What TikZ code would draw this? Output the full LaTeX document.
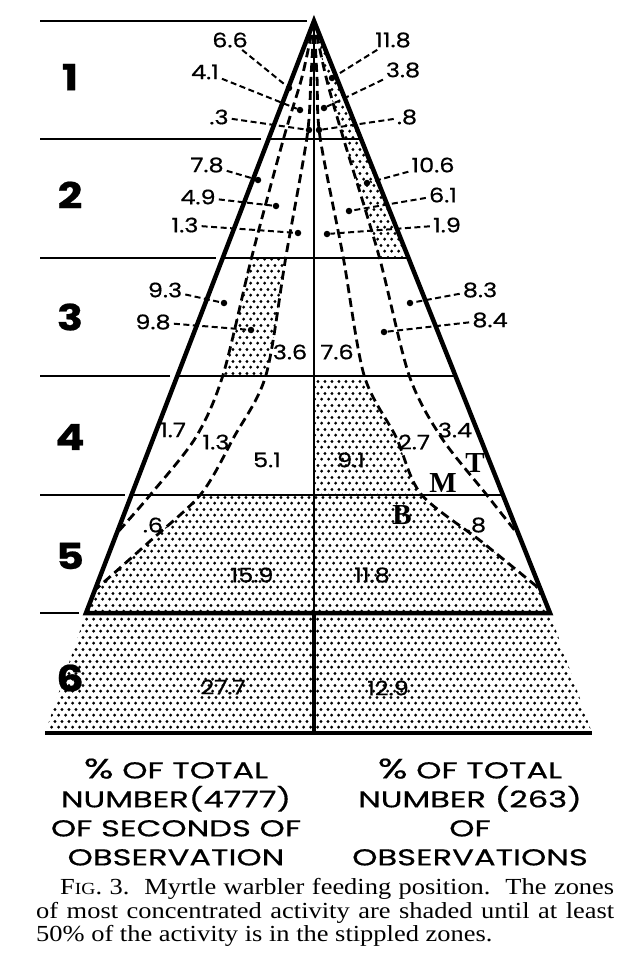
\documentclass[tikz,border=0pt]{standalone}
\usepackage{fontspec}
\usepackage{tikz}
\usetikzlibrary{calc}
\usetikzlibrary{patterns.meta}
\setmainfont{Liberation Serif}
\newfontfamily\lettering[FakeStretch=1.2, FakeBold=0.6]{Poppins}
\newfontfamily\legendfont[FakeStretch=1.4, FakeBold=0.6]{Poppins}
\newfontfamily\captionfont[FakeStretch=1.15]{Liberation Serif}
\tikzdeclarepattern{
    name=stippling,
    bounding box={(0pt,0pt) and (7.3pt,11.6pt)},
    tile size={(7.3pt,11.6pt)},
    code={
        \fill (1.8pt,2.9pt) circle (1.7pt);
        \fill (5.45pt,8.7pt) circle (1.7pt);
    }
}
\newcommand{\curveLO}{plot[smooth] coordinates {(314,21) (302,77) (284,137) (252,256) (223,375) (196,437) (151,494) (117,533)}}
\newcommand{\curveLI}{plot[smooth] coordinates {(314,21) (311,77) (307,137) (286,256) (266,375) (234,437) (201,494) (149,542) (95,590)}}
\newcommand{\curveRI}{plot[smooth] coordinates {(314,21) (317,77) (320,137) (343,256) (364,375) (396,437) (421,494) (482,542) (541,590)}}
\newcommand{\curveRO}{plot[smooth] coordinates {(314,21) (326,77) (343,137) (379,256) (409,375) (441,437) (486,494) (520,537)}}

\begin{document}
\begin{tikzpicture}[x=1pt, y=-1pt,
            edge/.style = {line width=4.5pt, line join=miter},
            rule/.style = {line width=1.9pt},
            zone/.style = {line width=2.8pt, dash pattern=on 9pt off 5pt},
            leader/.style = {line width=2pt, dash pattern=on 6pt off 3.5pt, shorten <=2pt},
            dot/.style = {circle, fill=black, inner sep=0pt, minimum size=6.5pt},
            val/.style = {font=\lettering\fontsize{20}{20}\selectfont, inner sep=1pt},
            row/.style = {font=\lettering\bfseries\fontsize{36}{36}\selectfont},
            band/.style = {font=\bfseries\fontsize{29}{29}\selectfont},
            legend/.style = {font=\legendfont\fontsize{23}{29}\selectfont, align=center, anchor=north},
            capline/.style = {anchor=base west, inner sep=0pt, font=\captionfont\fontsize{23}{23}\selectfont},
            stipple/.style = {pattern=stippling}]
        \useasboundingbox (0,0) rectangle (636,962);
        \coordinate (apex) at (314,21);
        \coordinate (bl) at (86,613);
        \coordinate (br) at (550,613);
        \coordinate (bbl) at (45,733);
        \coordinate (bbr) at (592,733);
        \coordinate (L1) at ($(apex)!0.2!(bl)$);
        \coordinate (L2) at ($(apex)!0.4!(bl)$);
        \coordinate (L3) at ($(apex)!0.6!(bl)$);
        \coordinate (L4) at ($(apex)!0.8!(bl)$);
        \coordinate (R1) at ($(apex)!0.2!(br)$);
        \coordinate (R2) at ($(apex)!0.4!(br)$);
        \coordinate (R3) at ($(apex)!0.6!(br)$);
        \coordinate (R4) at ($(apex)!0.8!(br)$);

        % stippled zones
        \begin{scope}
            \clip (apex) -- (bl) -- (br) -- cycle;
            \clip (0,0) rectangle (636,0 |- L2);
            \fill[stipple] \curveRO -- (520,800) -- (636,800) -- (636,0) -- (314,0) -- cycle;
        \end{scope}
        \begin{scope}
            \clip (0,0 |- L2) rectangle (636,0 |- L3);
            \clip \curveLO -- (117,800) -- (636,800) -- (636,0) -- (314,0) -- cycle;
            \fill[stipple] \curveLI -- (95,800) -- (0,800) -- (0,0) -- (314,0) -- cycle;
        \end{scope}
        \begin{scope}
            \clip (0,0 |- L3) rectangle (636,0 |- L4);
            \fill[stipple] \curveRI -- (541,800) -- (314,800) -- cycle;
        \end{scope}
        \begin{scope}
            \clip (0,0 |- L4) rectangle (636,613);
            \clip \curveLI -- (bl) -- (86,800) -- (636,800) -- (636,0) -- (314,0) -- cycle;
            \fill[stipple] \curveRI -- (br) -- (550,800) -- (0,800) -- (0,0) -- (314,0) -- cycle;
        \end{scope}
        \fill[stipple] (bl) -- (br) -- (bbr) -- (bbl) -- cycle;

        \draw[rule] ([xshift=-7pt]apex) -- (40,0 |- apex);
        \draw[rule] ([xshift=-7pt]L1) -- (40,0 |- L1);
        \draw[rule] ([xshift=-7pt]L2) -- (40,0 |- L2);
        \draw[rule] ([xshift=-7pt]L3) -- (40,0 |- L3);
        \draw[rule] ([xshift=-7pt]L4) -- (40,0 |- L4);
        \draw[rule] ([xshift=-7pt]bl) -- (40,0 |- bl);
        \draw[rule] (L1) -- (R1);
        \draw[rule] (L2) -- (R2);
        \draw[rule] (L3) -- (R3);
        \draw[rule] (L4) -- (R4);
        \draw[rule] (apex) -- (314,613);
        \draw[zone] \curveLO;
        \draw[zone] \curveLI;
        \draw[zone] \curveRI;
        \draw[zone] \curveRO;
        \draw[edge] (apex) -- (br) -- (bl) -- cycle;
        \draw[edge] (bbl) -- (bbr);
        \draw[line width=3.5pt] (314,613) -- (314,733);

        \node[row] (n1) at (70,77) {1};
        \node[row] (n2) at (70,195) {2};
        \node[row] (n3) at (70,317) {3};
        \node[row] (n4) at (70,437) {4};
        \node[row] (n5) at (70,556) {5};
        \node[row] (n6) at (70,678) {6};

        \node[val] (v66) at (230,40) {6.6};   \node[dot] (p66) at (289,88) {};
        \node[val] (v41) at (205,72) {4.1};   \node[dot] (p41) at (300,110) {};
        \node[val] (v03) at (219,117) {.3};   \node[dot] (p03) at (309,130) {};
        \node[val] (v118) at (393,40) {11.8}; \node[dot] (p118) at (332,78) {};
        \node[val] (v38) at (403,70) {3.8};   \node[dot] (p38) at (324,108) {};
        \node[val] (v08) at (407,117) {.8};   \node[dot] (p08) at (319,130) {};
        \node[val] (v78) at (207,165) {7.8};  \node[dot] (p78) at (258,180) {};
        \node[val] (v49) at (198,197) {4.9};  \node[dot] (p49) at (276,206) {};
        \node[val] (v13) at (185,225) {1.3};  \node[dot] (p13) at (298,233) {};
        \node[val] (v106) at (433,165) {10.6}; \node[dot] (p106) at (367,183) {};
        \node[val] (v61) at (443,195) {6.1};  \node[dot] (p61) at (349,211) {};
        \node[val] (v19) at (447,225) {1.9};  \node[dot] (p19) at (327,234) {};
        \node[val] (v93) at (165,290) {9.3};  \node[dot] (p93) at (224,303) {};
        \node[val] (v98) at (153,322) {9.8};  \node[dot] (p98) at (251,330) {};
        \node[val] (v83) at (480,290) {8.3};  \node[dot] (p83) at (410,303) {};
        \node[val] (v84) at (490,320) {8.4};  \node[dot] (p84) at (384,332) {};
        \draw[leader] (v66) -- (p66);
        \draw[leader] (v41) -- (p41);
        \draw[leader] (v03) -- (p03);
        \draw[leader] (v118) -- (p118);
        \draw[leader] (v38) -- (p38);
        \draw[leader] (v08) -- (p08);
        \draw[leader] (v78) -- (p78);
        \draw[leader] (v49) -- (p49);
        \draw[leader] (v13) -- (p13);
        \draw[leader] (v106) -- (p106);
        \draw[leader] (v61) -- (p61);
        \draw[leader] (v19) -- (p19);
        \draw[leader] (v93) -- (p93);
        \draw[leader] (v98) -- (p98);
        \draw[leader] (v83) -- (p83);
        \draw[leader] (v84) -- (p84);

        \node[val] (v36) at (290,352) {3.6};
        \node[val] (v76) at (337,352) {7.6};
        \node[val] (v17) at (173,430) {1.7};
        \node[val] (v13b) at (216,442) {1.3};
        \node[val] (v51) at (267,460) {5.1};
        \node[val] (v91) at (351,460) {9.1};
        \node[val] (v27) at (414,442) {2.7};
        \node[val] (v34) at (455,430) {3.4};
        \node[band] (tip) at (475,463) {T};
        \node[band] (mid) at (443,483) {M};
        \node[band] (base) at (402,515) {B};
        \node[val] (v06) at (153,525) {.6};
        \node[val] (v08b) at (476,525) {.8};
        \node[val] (v159) at (252,575) {15.9};
        \node[val] (v118b) at (372,575) {11.8};
        \node[val] (v277) at (223,687) {27.7};
        \node[val] (v129) at (388,688) {12.9};

        \node[legend] (legL) at (176,755) {{\fontsize{28}{29}\selectfont\%} OF TOTAL\\NUMBER(4777)\\OF SECONDS OF\\OBSERVATION};
        \node[legend] (legR) at (470,755) {{\fontsize{28}{29}\selectfont\%} OF TOTAL\\NUMBER (263)\\OF\\OBSERVATIONS};
        \node[capline] (cap1) at (60,894) {\makebox[554pt][s]{F{\fontsize{17}{17}\selectfont IG}. 3.\ \ Myrtle warbler feeding position.\ \ The zones}};
        \node[capline] (cap2) at (36,918) {\makebox[578pt][s]{of most concentrated activity are shaded until at least}};
        \node[capline] (cap3) at (36,941) {50\% of the activity is in the stippled zones.};
        \end{tikzpicture}
\end{document}
